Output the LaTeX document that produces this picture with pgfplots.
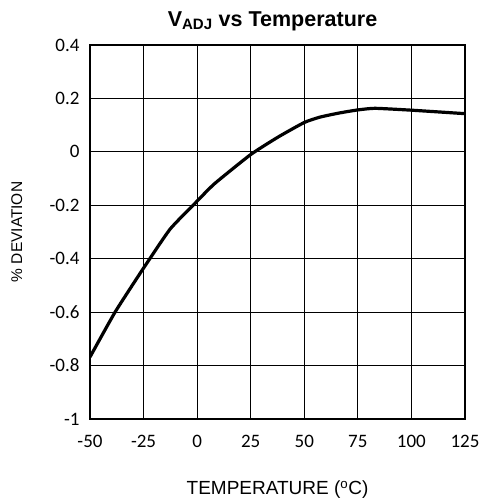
\documentclass[border=0pt]{standalone}
\usepackage{pgfplots}
\pgfplotsset{compat=1.18}
\usepackage{fontspec}
\setmainfont{Liberation Sans}
\newfontfamily\tickfont{Carlito}
\begin{document}
\begin{tikzpicture}
\begin{axis}[
  scale only axis,
  width=375pt, height=374pt,
  xmin=-50, xmax=125, ymin=-1, ymax=0.4,
  xtick={-50,-25,0,25,50,75,100,125},
  ytick={-1,-0.8,-0.6,-0.4,-0.2,0,0.2,0.4},
  yticklabels={-1,-0.8,-0.6,-0.4,-0.2,0,0.2,0.4},
  xticklabels={-50,-25,0,25,50,75,100,125},
  major tick length=0pt,
  grid=major,
  major grid style={black, line width=0.8pt},
  axis line style={black, line width=1.3pt},
  ticklabel style={font=\fontsize{19}{22}\selectfont\tickfont},
  xticklabel style={yshift=-13pt},
  yticklabel style={xshift=-7pt, anchor=east},
  xlabel={TEMPERATURE (\textsuperscript{o}C)},
  ylabel={\% DEVIATION},
  xlabel style={font=\fontsize{19}{22}\selectfont, at={(axis description cs:0.5,0)}, anchor=center, yshift=-71pt},
  ylabel style={font=\fontsize{15.5}{18}\selectfont, at={(axis description cs:-0.195,0.5)}, anchor=center},
  title={\textbf{V\textsubscript{ADJ} vs Temperature}},
  title style={font=\fontsize{21.5}{24}\selectfont, yshift=5pt, xshift=-5pt},
]
\addplot[black, line width=3.2pt, smooth, tension=0.3] coordinates {
(-50,-0.768) (-38.3,-0.60) (-25,-0.435) (-12.7,-0.29) (-1.3,-0.195) (8,-0.12) (25,-0.01) (37.9,0.056) (50,0.11) (57.3,0.13) (66,0.145) (75,0.157) (83,0.163) (100,0.156) (125,0.143)
};
\end{axis}
\path[use as bounding box] (current axis.south west) ++(-90pt,-85pt) rectangle ++(479pt,504pt);
\end{tikzpicture}
\end{document}
